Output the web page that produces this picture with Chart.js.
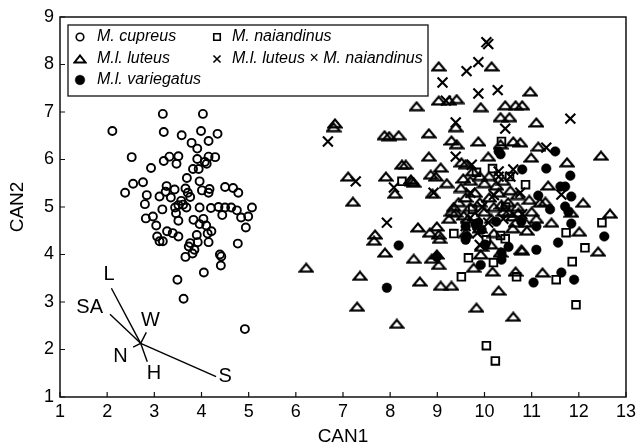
<!DOCTYPE html>
<html>
<head>
<meta charset="utf-8">
<script src="https://cdn.jsdelivr.net/npm/chart.js@4.4.1/dist/chart.umd.min.js"></script>
<style>
html,body{margin:0;padding:0;background:#fff;}
canvas{display:block;}
</style>
</head>
<body>
<canvas id="c" width="640" height="448"></canvas>
<script>
// ---------- DATA ----------
const xTicks = [1,2,3,4,5,6,7,8,9,10,11,12,13];
const yTicks = [1,2,3,4,5,6,7,8,9];
const seriesNames = ["M. cupreus","M.l. luteus","M.l. variegatus","M. naiandinus","M.l. luteus × M. naiandinus"];

const cupreus = [[3.18,6.96],[4.03,6.96],[2.11,6.60],[3.20,6.58],[3.58,6.51],[3.99,6.60],[4.34,6.54],[4.15,6.39],[3.79,6.35],[3.91,6.23],
[2.52,6.05],[3.20,5.97],[3.32,6.06],[3.51,6.07],[3.47,5.91],[3.91,6.01],[4.07,5.95],[4.15,6.06],[4.29,6.05],[4.11,5.91],
[2.93,5.82],[3.82,5.80],[3.94,5.80],[3.69,5.61],[2.76,5.52],[2.55,5.49],[2.38,5.30],[3.96,5.54],[3.26,5.44],[3.43,5.37],
[3.24,5.32],[3.66,5.39],[3.71,5.30],[4.01,5.35],[4.17,5.38],[4.15,5.30],[4.50,5.42],[4.67,5.40],[4.78,5.30],[2.84,5.25],
[3.11,5.22],[3.35,5.20],[3.76,5.21],[3.57,5.13],[2.80,5.06],[3.51,5.04],[3.61,5.05],[3.44,4.99],[3.68,4.99],[3.17,4.95],
[3.96,4.99],[4.20,4.98],[4.36,5.00],[4.50,4.99],[4.63,4.99],[4.75,4.93],[5.07,4.99],[3.46,4.87],[4.44,4.83],[4.84,4.78],
[4.99,4.80],[2.82,4.76],[2.97,4.80],[3.51,4.71],[3.83,4.73],[4.04,4.75],[3.04,4.61],[3.96,4.64],[4.10,4.61],[4.21,4.49],
[4.94,4.57],[3.27,4.49],[3.39,4.45],[3.51,4.38],[3.90,4.41],[4.13,4.44],[3.06,4.38],[3.11,4.28],[3.18,4.28],[3.76,4.24],
[3.92,4.26],[4.15,4.26],[4.77,4.23],[3.73,4.17],[3.85,4.10],[3.81,4.02],[3.66,3.95],[4.39,4.00],[4.42,3.96],[4.41,3.77],
[4.05,3.62],[3.49,3.47],[3.62,3.07],[4.92,2.43]];

const luteus = [[6.83,6.76],[6.80,6.68],[7.88,6.51],[8.18,6.51],[7.98,6.49],[8.25,5.89],[7.11,5.64],[7.91,5.64],[8.10,5.28],[7.21,5.11],
[8.46,5.54],[10.15,7.96],[9.03,7.96],[9.03,7.24],[9.41,7.27],[9.25,7.24],[8.56,7.12],[9.92,7.10],[10.44,7.14],[10.66,7.14],
[10.34,6.89],[10.53,6.89],[9.39,6.68],[8.82,6.55],[9.30,6.40],[9.41,6.32],[9.87,6.38],[10.34,6.32],[10.61,6.38],[8.82,6.06],
[10.08,6.06],[8.33,5.89],[9.07,5.83],[9.51,5.94],[8.86,5.68],[8.97,5.64],[8.44,5.58],[8.50,5.51],[8.90,5.28],[10.97,7.43],
[10.80,7.14],[11.10,6.78],[10.76,6.36],[11.14,6.27],[10.99,6.04],[11.75,5.94],[12.47,6.08],[11.35,5.45],[11.29,5.11],[7.68,4.42],
[7.66,4.29],[7.89,4.04],[6.22,3.72],[7.36,3.55],[7.30,2.90],[8.14,2.54],[8.59,4.57],[8.84,4.46],[8.99,4.59],[9.03,4.42],
[9.05,4.33],[9.94,4.16],[10.13,4.21],[10.34,4.04],[8.50,3.91],[8.88,3.91],[8.99,4.00],[9.03,3.78],[9.92,4.00],[9.77,3.72],
[10.17,3.64],[8.63,3.43],[9.07,3.34],[9.30,3.34],[10.30,3.24],[9.83,2.88],[10.61,2.69],[10.66,3.64],[11.18,5.09],[12.09,5.09],
[11.84,4.88],[12.66,4.86],[11.42,4.67],[12.01,4.48],[10.80,4.08],[12.41,4.06],[11.23,3.62],[9.30,4.90],[9.39,4.88],[9.56,4.82],
[10.36,5.05],[10.51,4.88],[10.72,4.88],[10.66,4.67],[10.87,4.67],[10.78,4.10],[9.50,5.40],[9.60,5.20],[9.70,5.00],[9.80,5.30],
[9.90,5.10],[10.00,5.50],[10.10,5.20],[10.20,5.00],[10.30,5.30],[9.65,4.75],[9.80,4.80],[10.00,4.90],[10.15,4.75],[10.40,4.90],
[10.50,5.10],[10.60,4.80],[10.70,5.00],[10.90,4.50],[10.60,4.55],[9.45,5.10],[9.35,5.00],[9.25,4.75],[10.25,5.45],[10.55,5.35],
[10.70,5.25],[9.90,5.65],[9.70,5.55],[10.40,5.55],[11.00,4.90],[11.10,4.75],[10.95,5.15],[9.55,5.60],[9.75,5.75],[10.10,5.65],
[9.20,5.50],[9.60,5.90],[9.90,4.55],[10.20,4.45],[9.60,4.45]];

const variegatus = [[10.34,6.11],[10.30,6.17],[11.50,6.17],[10.80,5.79],[11.31,5.81],[11.82,5.66],[11.61,5.43],[11.71,5.43],[11.14,5.24],[11.84,5.22],
[8.18,4.19],[7.93,3.30],[9.60,4.59],[9.62,4.38],[9.81,4.63],[9.87,4.67],[9.94,4.52],[10.51,4.16],[10.36,4.04],[10.36,3.89],
[8.99,3.95],[9.92,3.78],[11.39,4.95],[11.71,5.01],[11.78,4.90],[11.10,4.59],[11.84,4.65],[12.54,4.38],[11.56,4.25],[11.10,4.10],
[11.63,3.62],[11.04,3.41],[11.90,3.47],[10.25,4.69],[9.60,4.31],[10.02,4.21],[10.78,4.69]];

const naiandinus = [[8.25,5.54],[9.83,5.73],[10.17,5.81],[10.53,5.64],[10.36,6.38],[10.87,5.47],[9.35,4.44],[10.04,4.31],[10.34,4.40],[10.44,4.33],
[9.66,3.93],[10.19,3.83],[9.51,3.53],[10.68,3.53],[10.04,2.08],[10.23,1.76],[12.49,4.67],[11.73,4.46],[12.13,4.14],[11.86,3.85],
[11.52,3.47],[11.94,2.94],[9.75,4.95],[10.45,5.00]];

const hybrids = [[6.68,6.38],[7.27,5.54],[8.08,5.41],[10.04,8.47],[10.08,8.43],[9.87,8.05],[9.62,7.86],[9.11,7.62],[9.87,7.39],[10.28,7.46],
[9.18,7.24],[9.39,6.78],[10.44,6.65],[9.39,6.06],[9.73,5.89],[10.30,5.64],[10.55,5.64],[8.92,5.30],[11.82,6.86],[11.31,6.25],
[11.63,5.26],[10.76,5.30],[7.93,4.67],[10.08,4.67],[10.30,5.75],[10.61,5.79],[9.70,5.30],[9.95,5.00],[10.20,5.25],[10.40,4.75],
[9.60,4.60],[10.80,4.85],[9.85,4.45],[9.90,4.20]];

// biplot vectors: origin, ends, label positions
const vecOrigin = [2.71, 2.13];
const vecNames = ["L","SA","W","N","H","S"];
const vecEnds = [[2.09,3.29],[2.06,2.74],[2.83,2.36],[2.55,2.05],[2.85,1.74],[4.31,1.43]];
const vecLabels = [[2.04,3.57],[1.63,2.88],[2.92,2.62],[2.28,1.86],[2.99,1.49],[4.50,1.43]];

// ---------- helpers ----------
const toXY = a => a.map(p => ({x:p[0], y:p[1]}));
const FONT = "'Liberation Sans', Arial, Helvetica, sans-serif";

function triCanvas(w, h, lw){
  const c = document.createElement('canvas');
  c.width = w; c.height = h;
  const g = c.getContext('2d');
  g.strokeStyle = '#000'; g.lineWidth = lw; g.lineJoin = 'miter';
  const m = lw/2 + 0.5;
  g.beginPath(); g.moveTo(m, h - m); g.lineTo(w - m, h - m); g.lineTo(w/2, m); g.closePath(); g.stroke();
  return c;
}
const TRI = triCanvas(16, 11, 2.2);
const TRI_LEG = triCanvas(14, 10, 2.0);

const styles = {
  cupreus:   {pointStyle:'circle', radius:4.0, borderWidth:1.9, fill:'rgba(0,0,0,0)'},
  luteus:    {pointStyle:TRI, radius:6, borderWidth:2, fill:'rgba(0,0,0,0)'},
  variegatus:{pointStyle:'circle', radius:4.8, borderWidth:0.5, fill:'#000'},
  naiandinus:{pointStyle:'rect', radius:5.4, borderWidth:1.9, fill:'rgba(0,0,0,0)'},
  hybrids:   {pointStyle:'crossRot', radius:7, borderWidth:2.1, fill:'rgba(0,0,0,0)'}
};

function ds(label, arr, st){
  return {label, data: toXY(arr), pointStyle: st.pointStyle, pointRadius: st.radius,
    pointBorderWidth: st.borderWidth, pointBorderColor:'#000', pointBackgroundColor: st.fill,
    showLine:false, pointHoverRadius: st.radius};
}

const datasets = [
  ds(seriesNames[0], cupreus, styles.cupreus),
  ds(seriesNames[1], luteus, styles.luteus),
  ds(seriesNames[2], variegatus, styles.variegatus),
  ds(seriesNames[3], naiandinus, styles.naiandinus),
  ds(seriesNames[4], hybrids, styles.hybrids)
];
vecEnds.forEach((e,i) => {
  datasets.push({label:'vec '+vecNames[i], data:[{x:vecOrigin[0],y:vecOrigin[1]},{x:e[0],y:e[1]}],
    showLine:true, borderColor:'#000', borderWidth:1.4, pointRadius:0, fill:false});
});

// ---------- plugins ----------
const framePlugin = {
  id:'frame',
  afterDraw(chart){
    const {ctx, chartArea:a, scales:{x, y}} = chart;
    ctx.save();
    ctx.strokeStyle = '#111'; ctx.lineWidth = 1.5;
    ctx.strokeRect(a.left, a.top, a.right - a.left, a.bottom - a.top);
    ctx.lineWidth = 1.2;
    ctx.beginPath();
    xTicks.forEach(v => { const px = x.getPixelForValue(v); ctx.moveTo(px, a.bottom); ctx.lineTo(px, a.bottom - 5); });
    yTicks.forEach(v => { const py = y.getPixelForValue(v); ctx.moveTo(a.left, py); ctx.lineTo(a.left + 5, py); });
    ctx.stroke();
    // vector labels
    ctx.fillStyle = '#000';
    ctx.font = '20px ' + FONT;
    ctx.textAlign = 'center'; ctx.textBaseline = 'middle';
    vecNames.forEach((n,i) => {
      ctx.fillText(n, x.getPixelForValue(vecLabels[i][0]), y.getPixelForValue(vecLabels[i][1]));
    });
    // legend
    const L = 68, T = 25, R = 428, B = 96;
    ctx.fillStyle = '#fff';
    ctx.fillRect(L, T, R-L, B-T);
    ctx.strokeStyle = '#111'; ctx.lineWidth = 1.3;
    ctx.strokeRect(L, T, R-L, B-T);
    const items = [
      {st:styles.cupreus, sx:80, ty:37, tx:97, name:seriesNames[0], r:3.8, lw:1.6},
      {st:styles.luteus, sx:80, ty:59, tx:97, name:seriesNames[1], img:TRI_LEG},
      {st:styles.variegatus, sx:80, ty:80, tx:97, name:seriesNames[2], r:4.8, lw:0.5},
      {st:styles.naiandinus, sx:217, ty:37, tx:232, name:seriesNames[3], r:4.6, lw:1.6},
      {st:styles.hybrids, sx:217, ty:59, tx:232, name:seriesNames[4], r:5.0, lw:1.6}
    ];
    items.forEach(it => {
      ctx.save();
      ctx.strokeStyle = '#000'; ctx.fillStyle = it.st.fill; ctx.lineWidth = it.lw || 1.6;
      Chart.helpers.drawPoint(ctx, {pointStyle: it.img || it.st.pointStyle, radius: it.r || 5, borderWidth: it.lw || 1.6, rotation:0}, it.sx, it.ty);
      ctx.restore();
      ctx.fillStyle = '#000';
      ctx.font = 'italic 16px ' + FONT;
      ctx.textAlign = 'left'; ctx.textBaseline = 'middle';
      ctx.fillText(it.name, it.tx, it.ty);
    });
    ctx.restore();
  }
};

new Chart(document.getElementById('c'), {
  type:'scatter',
  data:{datasets},
  plugins:[framePlugin],
  options:{
    responsive:false, animation:false, devicePixelRatio:1,
    layout:{padding:{top:17, right:12, left:0, bottom:0}},
    plugins:{legend:{display:false}, tooltip:{enabled:false}},
    scales:{
      x:{type:'linear', min:1, max:13,
        afterBuildTicks: s => { s.ticks = xTicks.map(v => ({value:v})); },
        afterFit: s => { s.height = 51; },
        grid:{display:false, drawTicks:false}, border:{display:false},
        ticks:{color:'#000', font:{size:18, family:FONT}, padding:4, maxRotation:0, autoSkip:false},
        title:{display:true, text:'CAN1', color:'#000', font:{size:19, family:FONT, lineHeight:1.2}, padding:{top:0,bottom:0}}
      },
      y:{type:'linear', min:1, max:9,
        afterBuildTicks: s => { s.ticks = yTicks.map(v => ({value:v})); },
        afterFit: s => { s.width = 60; },
        grid:{display:false, drawTicks:false}, border:{display:false},
        ticks:{color:'#000', font:{size:18, family:FONT}, padding:6, autoSkip:false},
        title:{display:true, text:'CAN2', color:'#000', font:{size:19, family:FONT, lineHeight:1.2}, padding:{top:6,bottom:0}}
      }
    }
  }
});
</script>
</body>
</html>
